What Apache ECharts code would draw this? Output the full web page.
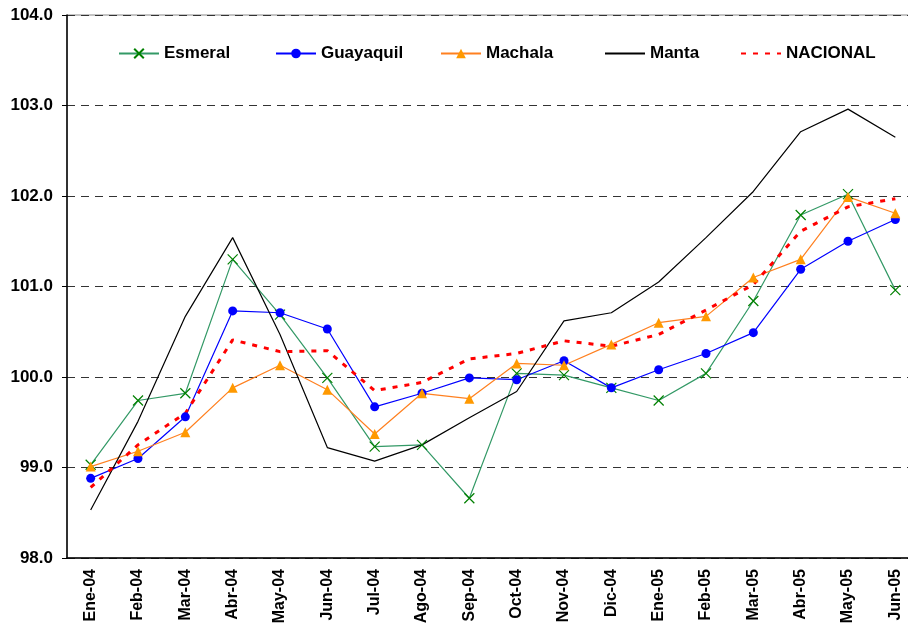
<!DOCTYPE html>
<html>
<head>
<meta charset="utf-8">
<script src="https://cdn.jsdelivr.net/npm/echarts@6/dist/echarts.min.js"></script>
<style>
  html, body { margin: 0; padding: 0; background: #fff; }
  #main { width: 908px; height: 624px; }
</style>
</head>
<body>
<div id="main"></div>
<script>
var categories = ['Ene-04', 'Feb-04', 'Mar-04', 'Abr-04', 'May-04', 'Jun-04', 'Jul-04', 'Ago-04', 'Sep-04',
  'Oct-04', 'Nov-04', 'Dic-04', 'Ene-05', 'Feb-05', 'Mar-05', 'Abr-05', 'May-05', 'Jun-05']

var esmeral = [99.03, 99.74, 99.82, 101.30, 100.69, 99.99, 99.23, 99.25, 98.66,
  100.04, 100.02, 99.88, 99.74, 100.04, 100.84, 101.79, 102.02, 100.96]
var guayaquil = [98.88, 99.10, 99.56, 100.73, 100.71, 100.53, 99.67, 99.82, 99.99,
  99.97, 100.18, 99.88, 100.08, 100.26, 100.49, 101.19, 101.50, 101.74]
var machala = [99.01, 99.18, 99.39, 99.88, 100.13, 99.86, 99.37, 99.82, 99.76,
  100.15, 100.13, 100.36, 100.60, 100.67, 101.10, 101.30, 101.99, 101.81]
var manta = [98.53, 99.51, 100.67, 101.54, 100.47, 99.22, 99.07, 99.25, 99.55,
  99.84, 100.62, 100.71, 101.05, 101.54, 102.05, 102.71, 102.96, 102.65]
var nacional = [98.78, 99.25, 99.60, 100.41, 100.28, 100.29, 99.85, 99.94, 100.20,
  100.26, 100.40, 100.34, 100.47, 100.74, 101.02, 101.61, 101.88, 101.97]

var yTicks = { min: 98, max: 104, step: 1 }

var font = 'Liberation Sans, Arial, sans-serif'

function legendAt(name, left, hideSymbol) {
  var lg = {
    data: [name],
    left: left,
    top: 45,
    padding: 0,
    itemWidth: 40,
    itemHeight: 12,
    textStyle: { fontFamily: font, fontWeight: 'bold', fontSize: 17, color: '#000' },
    selectedMode: false
  }
  if (hideSymbol) lg.itemStyle = { opacity: 0 }
  return lg
}

var chart = echarts.init(document.getElementById('main'))
var option = {
  animation: false,
  backgroundColor: '#fff',
  legend: [
    legendAt('Esmeral', 118),
    legendAt('Guayaquil', 275),
    legendAt('Machala', 440),
    legendAt('Manta', 604, true),
    legendAt('NACIONAL', 740, true)
  ],
  grid: {
    left: 67, top: 15, width: 852, height: 543,
    outerBoundsMode: 'none',
    containLabel: false,
    show: true,
    borderColor: '#888',
    borderWidth: 1
  },
  xAxis: {
    type: 'category',
    data: categories,
    axisLine: { lineStyle: { color: '#000', width: 1.5 } },
    axisTick: { lineStyle: { color: '#000' }, length: 5 },
    axisLabel: {
      rotate: 90,
      fontFamily: font,
      fontWeight: 'bold',
      fontSize: 16,
      color: '#000',
      margin: 11
    }
  },
  yAxis: {
    type: 'value',
    min: yTicks.min,
    max: yTicks.max,
    interval: yTicks.step,
    axisLine: { show: true, lineStyle: { color: '#000', width: 1.5 } },
    axisTick: { show: true, lineStyle: { color: '#000' }, length: 5 },
    axisLabel: {
      fontFamily: font,
      fontWeight: 'bold',
      fontSize: 17,
      color: '#000',
      margin: 14,
      formatter: function (v) { return v.toFixed(1) }
    },
    splitLine: { lineStyle: { color: '#333', type: [8, 6], width: 1 } }
  },
  series: [
    {
      name: 'Esmeral',
      type: 'line',
      data: esmeral,
      symbol: 'path://M0,0L10,10M10,0L0,10',
      symbolSize: 10,
      lineStyle: { color: '#339966', width: 1.2 },
      itemStyle: { color: 'none', borderColor: '#008000', borderWidth: 1.2 }
    },
    {
      name: 'Guayaquil',
      type: 'line',
      data: guayaquil,
      symbol: 'circle',
      symbolSize: 9,
      lineStyle: { color: '#0000ff', width: 1.2 },
      itemStyle: { color: '#0000ff', borderColor: '#0000ff', borderWidth: 0 }
    },
    {
      name: 'Machala',
      type: 'line',
      data: machala,
      symbol: 'triangle',
      symbolSize: 10,
      lineStyle: { color: '#ff8020', width: 1.2 },
      itemStyle: { color: '#ff9900', borderWidth: 0 }
    },
    {
      name: 'Manta',
      type: 'line',
      data: manta,
      symbol: 'none',
      lineStyle: { color: '#000', width: 1.2 },
      itemStyle: { color: '#000' }
    },
    {
      name: 'NACIONAL',
      type: 'line',
      data: nacional,
      symbol: 'none',
      lineStyle: { color: '#ff0000', width: 3, type: [5, 7] },
      itemStyle: { color: '#ff0000' }
    }
  ]
}
chart.setOption(option)
</script>
</body>
</html>
